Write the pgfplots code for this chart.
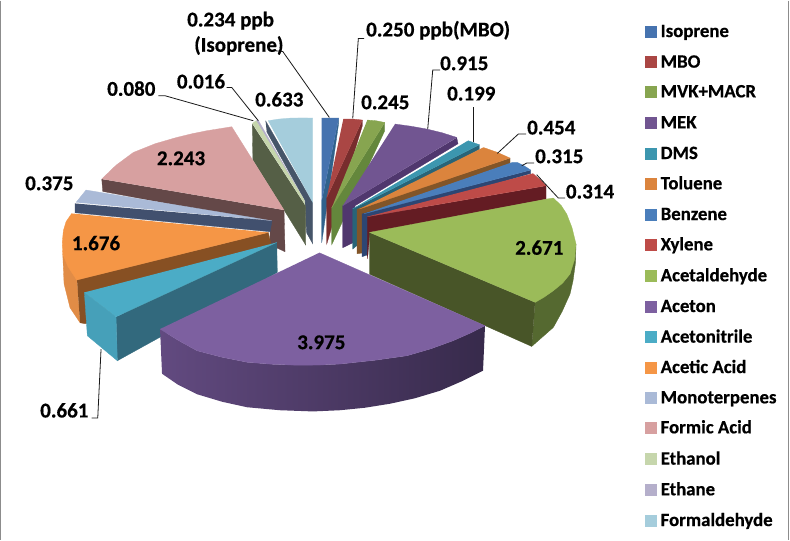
\documentclass[border=0pt]{standalone}
\usepackage{fontspec}
\setmainfont{Carlito}[BoldFeatures={FakeBold=0.5}]
\usepackage{pgfplots}
\pgfplotsset{compat=1.18}
\definecolor{tIso}{RGB}{70,115,175}\definecolor{sIso}{RGB}{48,98,140}
\definecolor{tMbo}{RGB}{170,70,68}\definecolor{sMbo}{RGB}{120,45,45}
\definecolor{tMvk}{RGB}{135,165,80}\definecolor{sMvk}{RGB}{100,135,60}
\definecolor{tMek}{RGB}{113,85,145}\definecolor{sMek}{RGB}{80,55,110}
\definecolor{tDms}{RGB}{60,150,175}\definecolor{sDms}{RGB}{40,100,120}
\definecolor{tTol}{RGB}{219,132,61}\definecolor{sTol}{RGB}{130,85,40}
\definecolor{tBen}{RGB}{74,126,187}\definecolor{sBen}{RGB}{45,70,115}
\definecolor{tXyl}{RGB}{190,75,72}\definecolor{sXyl}{RGB}{100,28,35}
\definecolor{tAld}{RGB}{155,187,89}\definecolor{sAld}{RGB}{72,85,40}\definecolor{rAld}{RGB}{85,105,48}
\definecolor{tAce}{RGB}{125,96,160}\definecolor{lAce}{RGB}{98,74,128}\definecolor{dAce}{RGB}{55,42,75}
\definecolor{tNit}{RGB}{75,172,198}\definecolor{rNit}{RGB}{70,160,185}\definecolor{sNit}{RGB}{50,105,125}
\definecolor{tAcA}{RGB}{245,150,70}\definecolor{rAcA}{RGB}{225,140,70}\definecolor{sAcA}{RGB}{135,80,35}
\definecolor{tMon}{RGB}{170,186,215}\definecolor{sMon}{RGB}{65,80,110}
\definecolor{tFor}{RGB}{215,160,160}\definecolor{sFor}{RGB}{100,72,72}
\definecolor{tEol}{RGB}{198,214,172}\definecolor{sEol}{RGB}{85,95,70}
\definecolor{tEan}{RGB}{181,175,203}
\definecolor{tFal}{RGB}{165,205,220}\definecolor{sFal}{RGB}{70,85,105}
\newcommand{\poly}[2]{\addplot[fill=#1,draw=#1,line width=0.3pt,no markers] coordinates {#2};}
\newcommand{\lead}[1]{\addplot[draw=black!90,line width=0.8bp,no markers] coordinates {#1};}
\newcommand{\lab}[3]{\node[anchor=base west,inner sep=0pt,font=\fontsize{21bp}{21bp}\selectfont\bfseries] at (axis cs:#1,#2) {#3};}
\newcommand{\leg}[3]{\addplot[only marks,mark=square*,mark size=5.5bp,mark options={fill=#1,draw=#1}] coordinates {(650.5,#2)};
 \node[anchor=base west,inner sep=0pt,font=\fontsize{18.8bp}{18.8bp}\selectfont\bfseries] at (axis cs:660.5,#2+5.6) {#3};}
\begin{document}
\begin{tikzpicture}
\begin{axis}[hide axis,scale only axis,width=790bp,height=539bp,xmin=0,xmax=790,ymin=0,ymax=539,y dir=reverse,clip=false]
\addplot[fill=white,draw=none,no markers] coordinates {(0,0)(790,0)(790,539)(0,539)};
\addplot[draw=black!45,line width=1.5bp,no markers] coordinates {(0.7,0)(0.7,539)};
\addplot[draw=black!45,line width=1.2bp,no markers] coordinates {(788.3,0)(788.3,539)};
% Formaldehyde
\poly{sFal}{(265.5,120)(312.7,202)(312.7,243)(306.5,232)(305,200)(266.7,131)}
\poly{tFal}{(268,120)(279,118.3)(290,117.4)(301,117.2)(312.7,117.3)(312.7,202)}
% Ethanol / Ethane
\poly{sEol}{(252.3,123.3)(252.8,159)(305.7,244.3)(305.5,205)}
\poly{tEan}{(256,120)(258.5,120)(305,201)(303.5,199)}
\poly{tEol}{(252.3,122.7)(256,120)(304,199)(305,204)}
% Formic acid
\poly{sFor}{(101.7,178.3)(102.7,190.7)(270,222)(270,244)(285,251)(284,209.3)}
\poly{tFor}{(101.7,178.3)(116,164.5)(133.3,151.7)(155,143)(176.7,136.7)(192,133)(206.7,130)(231.7,126)(284,209.3)}
% Monoterpenes
\poly{sMon}{(75,202.7)(75,212)(270,231)(272,220)}
\poly{tMon}{(76,201.7)(86,189.3)(271.7,220)}
% Acetic acid
\poly{rAcA}{(62.7,253.3)(64,283)(70,307)(80,322)(77,279)}
\poly{sAcA}{(77,279)(268.3,231.7)(277,270)(85,323)(80,322)}
\poly{tAcA}{(71.7,212.7)(66,221)(63.3,230)(62.2,242)(62.7,253.3)(68,266)(76.7,279.3)(268.3,231.7)}
% Acetonitrile
\poly{sNit}{(116,316)(117.3,360)(277.3,271.7)(276.7,241.7)}
\poly{rNit}{(84.3,291.7)(87.3,335)(117.3,360)(116,316)}
\poly{tNit}{(84.3,291.7)(116,316)(276.7,241.7)}
% Isoprene
\poly{sIso}{(338.7,117.3)(338.7,122)(321.7,242)(321.7,200)}
\poly{tIso}{(321.7,117.3)(338.7,117.3)(321.7,200)}
% MBO
\poly{sMbo}{(362.3,119.3)(362.3,125)(326.7,243.3)(326.7,197)}
\poly{tMbo}{(343.3,118.3)(353,118.3)(362.3,119.3)(326.7,197)}
% MVK
\poly{sMvk}{(384.7,121.7)(384.7,130)(331.7,244)(331.7,207)}
\poly{tMvk}{(367.3,119.3)(376,120)(384.7,121.7)(331.7,207)}
% MEK
\poly{sMek}{(456.7,137)(458,143)(355,205)(355,241)(342.7,247)(342.7,205)}
\poly{tMek}{(395,123.3)(411,125.5)(426.7,128.3)(442,132)(456.7,136.7)(342.7,205)}
% DMS
\poly{sDms}{(479.3,144)(479.3,148.5)(358,216)(358,244)(352.7,248.3)(352.7,208)}
\poly{tDms}{(465,141.7)(468.3,140)(479.3,144)(352.7,208)}
% Toluene
\poly{sTol}{(510,157.3)(510,162.7)(364,218)(364,252)(357,253)(357,208.3)}
\poly{tTol}{(483.3,146.7)(497,151.5)(510,157.3)(359.3,208.3)}
% Benzene
\poly{sBen}{(530.7,169.3)(530.7,172.7)(368,221)(368,254)(362,256)(362,213)}
\poly{tBen}{(511.7,161.7)(517.3,161.7)(524,165)(530.7,169.3)(364,213)}
% Xylene
\poly{sXyl}{(546,185)(546,198.5)(370,232)(367.3,258)(367.3,216)}
\poly{tXyl}{(532.7,172.7)(541,179.5)(546,185)(367.3,216)}
% Acetaldehyde
\poly{rAld}{(535,301.7)(553.3,290)(570,273.3)(576,243.3)(575.5,262)(573,280)(570,293.3)(562,311)(553.3,326.7)(531.7,345.7)}
\poly{sAld}{(369.3,231.7)(535,301.7)(531.7,345.7)(369.3,273.3)}
\poly{tAld}{(369.3,231.7)(546.7,198.3)(553.3,197.3)(561,204.5)(566.7,213.3)(572,227)(576,243.3)(574.5,259)(570,273.3)(562.5,282.5)(553.3,290)(544,296.5)(535,301.7)}
% Aceton
\addplot[left color=lAce,right color=dAce,draw=none,no markers] coordinates {(160,328.3)(178,339.5)(197,350)(222,356.5)(247,361.5)(272,363.5)(297,364.5)(320,364.3)(340,363.3)(375,359.5)(407,355)(431,348)(453,340)(470,332.5)(485,325)(483,370)(463,380)(440,390)(415,397.5)(390,403)(365,407)(340,409.5)(313,410.7)(280,409.5)(247,406.5)(222,401)(197,393.5)(178,384)(162,373)};
\poly{tAce}{(319.3,252)(485,325)(470,332.5)(453,340)(431,348)(407,355)(375,359.5)(340,363.3)(320,364.3)(297,364.5)(272,363.5)(247,361.5)(222,356.5)(197,350)(178,339.5)(160,328.3)}
% leader lines
\lead{(329.3,116.7)(282.7,50.7)(275,50)}
\lead{(352.7,117.7)(358.3,37.7)(364,37.7)}
\lead{(427.7,128.3)(432.7,69.3)(440,69.3)}
\lead{(473.3,141.7)(473.3,106.7)}
\lead{(497.3,152.7)(518.3,133.3)(526,133.3)}
\lead{(521.7,165)(526.7,162.3)(534,162.3)}
\lead{(536.7,174)(558.3,197.3)(565,197.3)}
\lead{(101,348.3)(97.7,417.3)(91.7,417.3)}
\lead{(253.3,120)(165,95)(158.3,95)}
\lead{(258.3,120)(231.7,86.7)(226.7,86.7)}
% labels
\lab{187}{25.7}{0.234 ppb}
\lab{194}{51}{(Isoprene)}
\lab{366}{35.7}{0.250 ppb(MBO)}
\lab{440}{69.4}{0.915}
\lab{447}{99.7}{0.199}
\lab{361}{108.4}{0.245}
\lab{255}{105.7}{0.633}
\lab{527}{133.7}{0.454}
\lab{535}{162.4}{0.315}
\lab{565.7}{197.7}{0.314}
\lab{515}{254}{2.671}
\lab{297}{348.4}{3.975}
\lab{40}{416.7}{0.661}
\lab{71.7}{249.4}{1.676}
\lab{25}{189.4}{0.375}
\lab{156.7}{164.4}{2.243}
\lab{107}{95}{0.080}
\lab{176.7}{87.7}{0.016}
% legend
\leg{tIso}{30.7}{Isoprene}
\leg{tMbo}{61.3}{MBO}
\leg{tMvk}{91}{MVK+MACR}
\leg{tMek}{122}{MEK}
\leg{tDms}{152.7}{DMS}
\leg{tTol}{183}{Toluene}
\leg{tBen}{213.7}{Benzene}
\leg{tXyl}{244}{Xylene}
\leg{tAld}{275}{Acetaldehyde}
\leg{tAce}{305.7}{Aceton}
\leg{tNit}{336.3}{Acetonitrile}
\leg{tAcA}{366.7}{Acetic Acid}
\leg{tMon}{397}{Monoterpenes}
\leg{tFor}{427}{Formic Acid}
\leg{tEol}{458.3}{Ethanol}
\leg{tEan}{489}{Ethane}
\leg{tFal}{519.7}{Formaldehyde}
\end{axis}
\end{tikzpicture}
\end{document}
